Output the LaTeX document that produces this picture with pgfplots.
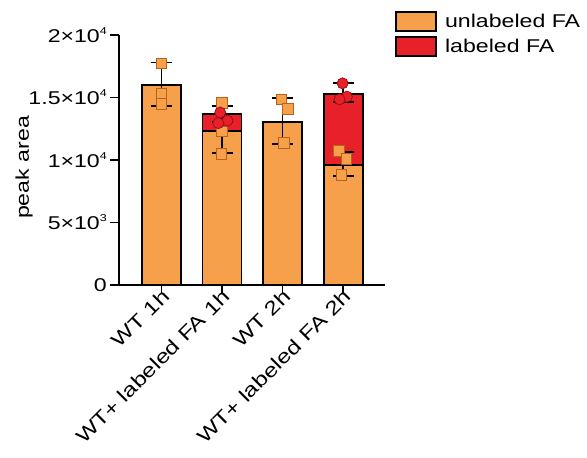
\documentclass[border=0pt]{standalone}
\usepackage{pgfplots}
\pgfplotsset{compat=1.18}
\usepackage{fontspec}
\setmainfont[FakeStretch=1.25]{Liberation Sans}
\definecolor{orangec}{HTML}{F7A04B}
\definecolor{redc}{HTML}{E8202A}
\definecolor{orangeedge}{HTML}{B8621A}
\definecolor{rededge}{HTML}{9A1015}
\newcommand{\supx}[1]{\raisebox{0.8ex}{\fontsize{10}{10}\selectfont #1}}
\begin{document}
\begin{tikzpicture}
\useasboundingbox (-119pt,-173pt) rectangle (468pt,285pt);
\begin{axis}[
  at={(0,0)}, anchor=south west,
  scale only axis, width=266pt, height=250pt,
  xmin=-0.70, xmax=3.69, ymin=0, ymax=20000,
  axis x line*=bottom, axis y line*=left,
  axis line style={line width=1.8pt, -},
  every tick/.style={black, line width=1.8pt},
  xtick={0,1,2,3},
  xticklabels={WT 1h, WT+ labeled FA 1h, WT 2h, WT+ labeled FA 2h},
  ytick={0,5000,10000,15000,20000},
  yticklabels={0, 5×10\supx{3}, 1×10\supx{4}, 1.5×10\supx{4}, 2×10\supx{4}},
  scaled y ticks=false,
  tick align=outside,
  major tick length=9pt,
  ticklabel style={font=\fontsize{18.5}{22}\selectfont},
  yticklabel style={inner sep=3pt},
  xticklabel style={font=\fontsize{19.5}{22}\selectfont, rotate=45, anchor=north east, inner sep=1pt, xshift=5pt, yshift=6pt},
  ylabel={peak area},
  ylabel style={font=\fontsize{18.5}{22}\selectfont, at={(axis description cs:-0.357,0.47)}, anchor=center},
  legend style={at={(axis description cs:1.038,1.095)}, anchor=north west, draw=none, fill=none,
    font=\fontsize{18.5}{22}\selectfont, row sep=4pt, inner sep=0pt,
    /tikz/every odd column/.append style={column sep=6pt}},
  legend cell align=left,
  clip=false,
]
\addlegendimage{legend image code/.code={\draw[fill=orangec, line width=1.8pt] (0pt,-9.5pt) rectangle (40pt,9.5pt);}}
\addlegendentry{unlabeled FA}
\addlegendimage{legend image code/.code={\draw[fill=redc, line width=1.8pt] (0pt,-9.5pt) rectangle (40pt,9.5pt);}}
\addlegendentry{labeled FA}

% total (unlabeled + labeled) bars in red
\addplot[ybar, bar width=0.645, bar shift=0pt, fill=redc, draw=black, line width=1.8pt, forget plot]
  coordinates {(0,16000) (1,13680) (2,13013) (3,15280)};
% unlabeled bars in orange
\addplot[ybar, bar width=0.645, bar shift=0pt, fill=orangec, draw=black, line width=1.8pt, forget plot]
  coordinates {(0,16000) (1,12340) (2,13013) (3,9600)};

% error bars (connecting line invisible)
\addplot[draw=black, draw opacity=0, line width=1.8pt, mark=none, forget plot,
  error bars/.cd, y dir=both, y explicit,
  error bar style={line width=1.8pt, draw=black, draw opacity=1, solid},
  error mark=-,
  error mark options={line width=1.8pt, mark size=10.5pt, draw=black, draw opacity=1, rotate=90}]
  table[x=x, y=y, y error plus=ep, y error minus=em] {
x y ep em
0 16000 1800 1650
1 12340 1950 1810
1 13680 620 620
2 13013 1920 1760
3 9600 1067 880
3 15280 853 613
};

% individual points: unlabeled (squares)
\addplot[only marks, mark=square*, mark size=5.3pt, mark options={fill=orangec, draw=orangeedge, line width=0.8pt}, forget plot]
  coordinates {(0,17733) (0,15333) (0,14480)
               (1,14580) (1,12300) (0.99,10500)
               (1.98,14853) (2.09,14080) (2.02,11387)
               (2.93,10720) (3.05,10080) (2.97,8800)};
% individual points: labeled (circles)
\addplot[only marks, mark=*, mark size=5.5pt, mark options={fill=redc, draw=rededge, line width=0.8pt}, forget plot]
  coordinates {(0.97,13800) (1.09,13150) (0.94,12950)
               (2.99,16133) (3.06,15067) (2.94,14853)};
\end{axis}
\end{tikzpicture}
\end{document}
